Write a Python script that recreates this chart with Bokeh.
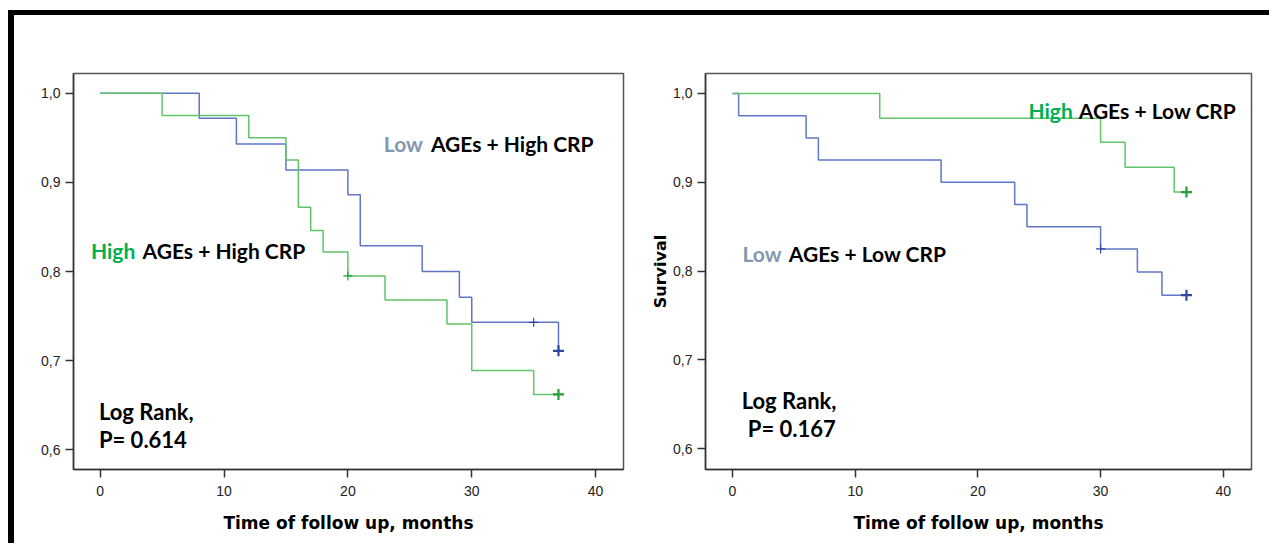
from bokeh.plotting import figure
from bokeh.models import Label, FixedTicker, CustomJSTickFormatter, Range1d, Spacer
from bokeh.layouts import row, column
from bokeh.embed import file_html
from bokeh.resources import INLINE

# ---------------- data ----------------
# Left panel: High CRP groups
left_low_t = [0, 8, 11, 15, 20, 21, 26, 29, 30, 37]
left_low_s = [1.0, 0.972, 0.943, 0.914, 0.886, 0.829, 0.800, 0.771, 0.743, 0.711]
left_low_cens_t = [35, 37]
left_low_cens_s = [0.743, 0.711]

left_high_t = [0, 5, 12, 15, 16, 17, 18, 20, 23, 28, 30, 35, 37]
left_high_s = [1.0, 0.975, 0.950, 0.925, 0.872, 0.846, 0.822, 0.795, 0.768, 0.741, 0.689, 0.662, 0.662]
left_high_cens_t = [20, 37]
left_high_cens_s = [0.795, 0.662]

# Right panel: Low CRP groups
right_low_t = [0, 0.5, 6, 7, 17, 23, 24, 30, 33, 35, 37]
right_low_s = [1.0, 0.975, 0.950, 0.925, 0.900, 0.875, 0.850, 0.825, 0.799, 0.773, 0.773]
right_low_cens_t = [30, 37]
right_low_cens_s = [0.825, 0.773]

right_high_t = [0, 12, 30, 32, 36, 37]
right_high_s = [1.0, 0.972, 0.945, 0.917, 0.889, 0.889]
right_high_cens_t = [37]
right_high_cens_s = [0.889]

x_ticks = [0, 10, 20, 30, 40]
y_ticks = [0.6, 0.7, 0.8, 0.9, 1.0]
x_label = "Time of follow up, months"
y_label = "Survival"

GREEN_LINE = "#62c46a"
GREEN_MARK = "#1f9e3a"
BLUE_LINE = "#6076c6"
BLUE_MARK = "#2f47a3"
GREEN_TXT = "#00b050"
BLUE_TXT = "#8497b0"
TXT_FONT = "Lato"
TXT_SIZE = "21px"


def make_panel(width, mb_left, mb_right, mb_bottom, xr, yr):
    p = figure(width=width, height=528, x_range=Range1d(*xr), y_range=Range1d(*yr),
               output_backend="svg", toolbar_location=None,
               min_border_left=mb_left, min_border_right=mb_right,
               min_border_top=58, min_border_bottom=mb_bottom)
    p.grid.visible = False
    p.outline_line_color = "#555555"
    p.outline_line_width = 1.5
    p.background_fill_color = "white"
    p.border_fill_color = "white"
    for ax in (p.xaxis[0], p.yaxis[0]):
        ax.axis_line_color = "#333333"
        ax.axis_line_width = 1.5
        ax.major_tick_line_color = "#333333"
        ax.major_tick_line_width = 1.5
        ax.major_tick_out = 8
        ax.major_tick_in = 0
        ax.minor_tick_line_color = None
        ax.major_label_text_font = "Liberation Sans"
        ax.major_label_text_font_size = "14px"
        ax.major_label_text_color = "#222222"
    p.xaxis.ticker = FixedTicker(ticks=x_ticks)
    p.yaxis.ticker = FixedTicker(ticks=y_ticks)
    p.yaxis.formatter = CustomJSTickFormatter(code="return tick.toFixed(1).replace('.', ',');")
    p.xaxis.major_label_standoff = 8
    p.yaxis.major_label_standoff = 5
    p.xaxis.axis_label = x_label
    p.xaxis.axis_label_text_font = "DejaVu Sans"
    p.xaxis.axis_label_text_font_style = "bold"
    p.xaxis.axis_label_text_font_size = "17px"
    p.xaxis.axis_label_text_color = "black"
    p.xaxis.axis_label_standoff = 14
    return p


def draw_curve(p, t, s, ct, cs, line_color, mark_color):
    p.step(x=t, y=s, mode="after", line_color=line_color, line_width=1.5)
    if len(ct) > 1:
        p.scatter(x=ct[:-1], y=cs[:-1], marker="cross", size=9,
                  line_color=mark_color, line_width=1.2)
    p.scatter(x=ct[-1:], y=cs[-1:], marker="cross", size=11,
              line_color=mark_color, line_width=2.2)


def add_text(p, x, y, txt, color, size=TXT_SIZE):
    p.add_layout(Label(x=x, y=y, text=txt, text_font=TXT_FONT, text_font_style="bold",
                       text_font_size=size, text_color=color, text_baseline="alphabetic",
                       text_align="left"))


# ---------------- left panel ----------------
p1 = make_panel(633, 59, 24, 70, (-2.15, 42.25), (0.5778, 1.0222))
draw_curve(p1, left_low_t, left_low_s, left_low_cens_t, left_low_cens_s, BLUE_LINE, BLUE_MARK)
draw_curve(p1, left_high_t, left_high_s, left_high_cens_t, left_high_cens_s, GREEN_LINE, GREEN_MARK)
add_text(p1, 22.9, 0.9437, "Low", BLUE_TXT)
add_text(p1, 26.7, 0.9437, "AGEs + High CRP", "black")
add_text(p1, -0.74, 0.8237, "High", GREEN_TXT)
add_text(p1, 3.42, 0.8237, "AGEs + High CRP", "black")
add_text(p1, -0.1, 0.6426, "Log Rank,", "black", "22px")
add_text(p1, -0.1, 0.6115, "P= 0.614", "black", "22px")

# ---------------- right panel ----------------
p2 = make_panel(614, 58, 10, 74, (-2.2, 42.3), (0.5767, 1.0225))
p2.yaxis.axis_label = y_label
p2.yaxis.axis_label_text_font = "DejaVu Sans"
p2.yaxis.axis_label_text_font_style = "bold"
p2.yaxis.axis_label_text_font_size = "16px"
p2.yaxis.axis_label_text_color = "black"
p2.yaxis.axis_label_standoff = 0
draw_curve(p2, right_low_t, right_low_s, right_low_cens_t, right_low_cens_s, BLUE_LINE, BLUE_MARK)
draw_curve(p2, right_high_t, right_high_s, right_high_cens_t, right_high_cens_s, GREEN_LINE, GREEN_MARK)
add_text(p2, 24.12, 0.9812, "High", GREEN_TXT)
add_text(p2, 28.22, 0.9812, "AGEs + Low CRP", "black")
add_text(p2, 0.815, 0.8201, "Low", BLUE_TXT)
add_text(p2, 4.59, 0.8201, "AGEs  + Low CRP", "black")
add_text(p2, 0.75, 0.6544, "Log Rank,", "black", "22px")
add_text(p2, 1.25, 0.6229, "P= 0.167", "black", "22px")

# ---------------- frame decoration ----------------
black = {"background-color": "black"}
gap = Spacer(width=1261, height=10)
top_bar = row(Spacer(width=8, height=5), Spacer(width=1261, height=5, styles=black))
body = row(Spacer(width=8, height=528), Spacer(width=6, height=528, styles=black), p1, p2)
layout = column(gap, top_bar, body)

open("out.html", "w").write(file_html(layout, INLINE))
